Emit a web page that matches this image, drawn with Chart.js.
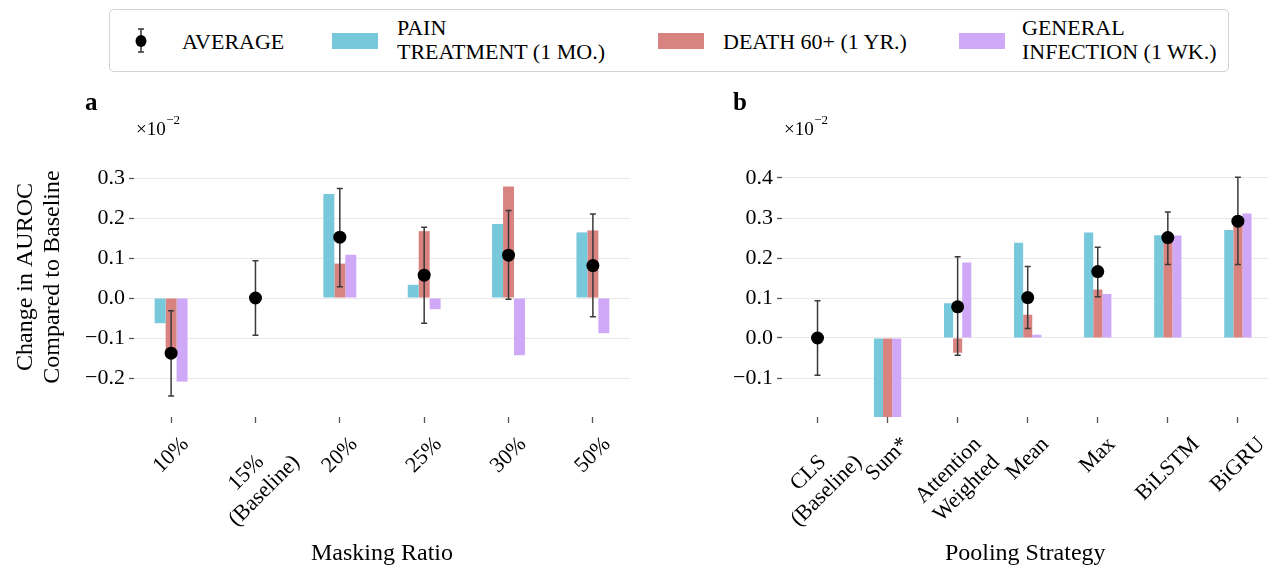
<!DOCTYPE html>
<html>
<head>
<meta charset="utf-8">
<script src="https://cdn.jsdelivr.net/npm/chart.js@4.4.1/dist/chart.umd.min.js"></script>
<style>
html,body{margin:0;padding:0;background:#fff;}
body{width:1275px;height:567px;position:relative;overflow:hidden;font-family:"Liberation Serif","Times New Roman",serif;color:#000;}
canvas{position:absolute;}
.legend{position:absolute;left:109px;top:9px;width:1120px;height:63px;border:1px solid #d2d2d2;border-radius:5px;box-sizing:border-box;}
.lt{position:absolute;font-size:22px;line-height:23.5px;white-space:nowrap;}
.patch{position:absolute;width:46px;height:16px;top:33px;}
</style>
</head>
<body>
<div class="legend"></div>
<svg style="position:absolute;left:133px;top:27px" width="16" height="28">
  <line x1="8" y1="2" x2="8" y2="25" stroke="#333" stroke-width="1.5"/>
  <line x1="5" y1="2" x2="11" y2="2" stroke="#333" stroke-width="1.5"/>
  <line x1="5" y1="25" x2="11" y2="25" stroke="#333" stroke-width="1.5"/>
  <ellipse cx="8" cy="14" rx="5.5" ry="6" fill="#000"/>
</svg>
<div class="lt" style="left:182px;top:30px">AVERAGE</div>
<div class="patch" style="left:332px;background:#78C8DC"></div>
<div class="lt" style="left:397px;top:16px">PAIN<br>TREATMENT (1 MO.)</div>
<div class="patch" style="left:658px;background:#D98380"></div>
<div class="lt" style="left:723px;top:30px">DEATH 60+ (1 YR.)</div>
<div class="patch" style="left:959px;background:#D0A8F8"></div>
<div class="lt" style="left:1022px;top:16px">GENERAL<br>INFECTION (1 WK.)</div>

<canvas id="ca" width="640" height="477" style="left:0;top:90px"></canvas>
<canvas id="cb" width="635" height="477" style="left:640px;top:90px"></canvas>

<script>
// ---------- DATA ----------
const maskCats = [['10%'], ['15%', '(Baseline)'], ['20%'], ['25%'], ['30%'], ['50%']];
const maskPain  = [-0.063, null, 0.260, 0.033, 0.185, 0.164];
const maskDeath = [-0.142, null, 0.086, 0.167, 0.279, 0.169];
const maskInf   = [-0.209, null, 0.108, -0.028, -0.143, -0.088];
const maskAvg   = [-0.138, 0.000, 0.152, 0.057, 0.107, 0.081];
const maskErrLo = [-0.245, -0.093, 0.028, -0.063, -0.003, -0.047];
const maskErrHi = [-0.032, 0.093, 0.274, 0.177, 0.219, 0.210];
const maskYTicks = [-0.2, -0.1, 0.0, 0.1, 0.2, 0.3];

const poolCats = [['CLS', '(Baseline)'], ['Sum*'], ['Attention', 'Weighted'], ['Mean'], ['Max'], ['BiLSTM'], ['BiGRU']];
const poolPain  = [null, -1.2, 0.087, 0.238, 0.264, 0.257, 0.270];
const poolDeath = [null, -1.3, -0.037, 0.058, 0.121, 0.240, 0.295];
const poolInf   = [null, -1.1, 0.189, 0.008, 0.110, 0.256, 0.311];
const poolAvg   = [0.000, null, 0.078, 0.101, 0.166, 0.251, 0.292];
const poolErrLo = [-0.093, null, -0.043, 0.024, 0.103, 0.184, 0.184];
const poolErrHi = [0.093, null, 0.203, 0.179, 0.227, 0.315, 0.402];
const poolYTicks = [-0.1, 0.0, 0.1, 0.2, 0.3, 0.4];

const seriesNames = ['AVERAGE', 'PAIN TREATMENT (1 MO.)', 'DEATH 60+ (1 YR.)', 'GENERAL INFECTION (1 WK.)'];
// ---------- STYLE ----------
const C_PAIN = '#78C8DC', C_DEATH = '#D98380', C_INF = '#D0A8F8';
const FONT = '"Liberation Serif", "Times New Roman", "DejaVu Serif", serif';
Chart.defaults.font.family = FONT;

function pts(arr) { return arr.map((v, i) => ({x: i, y: v})); }
function fmt(v) {
  const r = Math.round(v * 10) / 10;
  return (r < 0 ? '\u2212' : '') + Math.abs(r).toFixed(1);
}

function extras(o) {
  return {
    id: 'extras',
    beforeDatasetDraw(chart, args) {
      if (args.index !== 0) return;
      const {ctx, chartArea: a, scales: {x, y}} = chart;
      ctx.save();
      ctx.beginPath();
      ctx.rect(a.left, a.top, a.right - a.left, a.bottom - a.top);
      ctx.clip();
      ctx.strokeStyle = '#3a3a3a';
      ctx.lineWidth = 1.5;
      o.lo.forEach((lo, i) => {
        const hi = o.hi[i];
        if (lo == null || hi == null) return;
        const px = x.getPixelForValue(i), p1 = y.getPixelForValue(lo), p2 = y.getPixelForValue(hi);
        ctx.beginPath();
        ctx.moveTo(px, p1); ctx.lineTo(px, p2);
        ctx.moveTo(px - 3, p1); ctx.lineTo(px + 3, p1);
        ctx.moveTo(px - 3, p2); ctx.lineTo(px + 3, p2);
        ctx.stroke();
      });
      ctx.restore();
    },
    afterDraw(chart) {
      const {ctx, chartArea: a, scales: {x}} = chart;
      ctx.save();
      ctx.fillStyle = '#000';
      // x tick labels, rotated 45deg, centred under tick
      ctx.font = '22px ' + FONT;
      const lh = 25.5;
      o.cats.forEach((lines, i) => {
        const px = x.getPixelForValue(i);
        let W = 0;
        lines.forEach(l => { W = Math.max(W, ctx.measureText(l).width); });
        const H = lines.length * lh;
        const D = (W + H) * Math.SQRT1_2;
        const cy = a.bottom + 15 + D / 2;
        ctx.save();
        ctx.translate(px, cy);
        ctx.rotate(-Math.PI / 4);
        ctx.textAlign = 'center';
        ctx.textBaseline = 'middle';
        lines.forEach((l, j) => ctx.fillText(l, 0, (j - (lines.length - 1) / 2) * lh));
        ctx.restore();
      });
      // x axis title
      ctx.font = '24px ' + FONT;
      ctx.textAlign = 'center';
      ctx.textBaseline = 'alphabetic';
      ctx.fillText(o.xTitle, (a.left + a.right) / 2, 560 - o.oy);
      // y axis title
      if (o.yTitle) {
        ctx.save();
        ctx.translate(0, 277 - o.oy);
        ctx.rotate(-Math.PI / 2);
        ctx.textAlign = 'center';
        ctx.fillText(o.yTitle[0], 0, 32 - o.ox);
        ctx.fillText(o.yTitle[1], 0, 59 - o.ox);
        ctx.restore();
      }
      // multiplier text
      ctx.textAlign = 'left';
      ctx.font = '19px ' + FONT;
      const mx = a.left + 2;
      ctx.fillText('\u00d710', mx, 135 - o.oy);
      const w10 = ctx.measureText('\u00d710').width;
      ctx.font = '13px ' + FONT;
      ctx.fillText('\u22122', mx + w10 + 0.5, 124 - o.oy);
      // panel letter
      ctx.font = 'bold 25px ' + FONT;
      ctx.fillText(o.letter, o.letterX - o.ox, 110 - o.oy);
      ctx.restore();
    }
  };
}

function makeChart(id, o) {
  const barDs = (label, vals, color) => ({
    label, data: pts(vals), backgroundColor: color, borderWidth: 0,
    categoryPercentage: 0.39, barPercentage: 1.0, clip: 0
  });
  return new Chart(document.getElementById(id), {
    type: 'bar',
    data: {
      datasets: [
        {type: 'line', label: seriesNames[0], data: pts(o.avg), showLine: false,
         pointRadius: 6.5, pointHoverRadius: 6.5, pointBackgroundColor: '#000',
         pointBorderColor: '#000', pointBorderWidth: 0, clip: 0},
        barDs(seriesNames[1], o.pain, C_PAIN),
        barDs(seriesNames[2], o.death, C_DEATH),
        barDs(seriesNames[3], o.inf, C_INF)
      ]
    },
    options: {
      responsive: false, animation: false, devicePixelRatio: 1, events: [],
      layout: {padding: o.padding},
      plugins: {legend: {display: false}, tooltip: {enabled: false}, title: {display: false}},
      scales: {
        x: {
          type: 'linear', min: o.xmin, max: o.xmax, offset: false,
          grid: {offset: false, drawOnChartArea: false, drawTicks: true, tickLength: 6, tickColor: '#555', tickWidth: 1.3},
          border: {display: false},
          ticks: {display: false},
          afterBuildTicks: s => { s.ticks = o.cats.map((c, i) => ({value: i})); },
          afterFit: s => { s.height = 150; }
        },
        y: {
          type: 'linear', min: o.ymin, max: o.ymax,
          grid: {color: '#e8e8e8', lineWidth: 1, drawTicks: true, tickColor: '#555', tickLength: 5, tickWidth: 1.3},
          border: {display: false},
          ticks: {color: '#000', font: {size: 22, family: FONT}, padding: 4, callback: v => fmt(v)},
          afterBuildTicks: s => { s.ticks = o.yticks.map(v => ({value: v})); },
          afterFit: s => { s.width = o.yw; }
        }
      }
    },
    plugins: [extras(o)]
  });
}

makeChart('ca', {
  cats: maskCats, pain: maskPain, death: maskDeath, inf: maskInf, avg: maskAvg,
  lo: maskErrLo, hi: maskErrHi, yticks: maskYTicks,
  xmin: -0.44, xmax: 5.44, ymin: -0.2975, ymax: 0.395,
  padding: {top: 50, right: 10, left: 0, bottom: 0}, yw: 134,
  ox: 0, oy: 90, xTitle: 'Masking Ratio',
  yTitle: ['Change in AUROC', 'Compared to Baseline'],
  letter: 'a', letterX: 85
});
makeChart('cb', {
  cats: poolCats, pain: poolPain, death: poolDeath, inf: poolInf, avg: poolAvg,
  lo: poolErrLo, hi: poolErrHi, yticks: poolYTicks,
  xmin: -0.507, xmax: 6.437, ymin: -0.1975, ymax: 0.495,
  padding: {top: 50, right: 0, left: 0, bottom: 0}, yw: 142,
  ox: 640, oy: 90, xTitle: 'Pooling Strategy',
  yTitle: null,
  letter: 'b', letterX: 733
});
</script>
</body>
</html>
